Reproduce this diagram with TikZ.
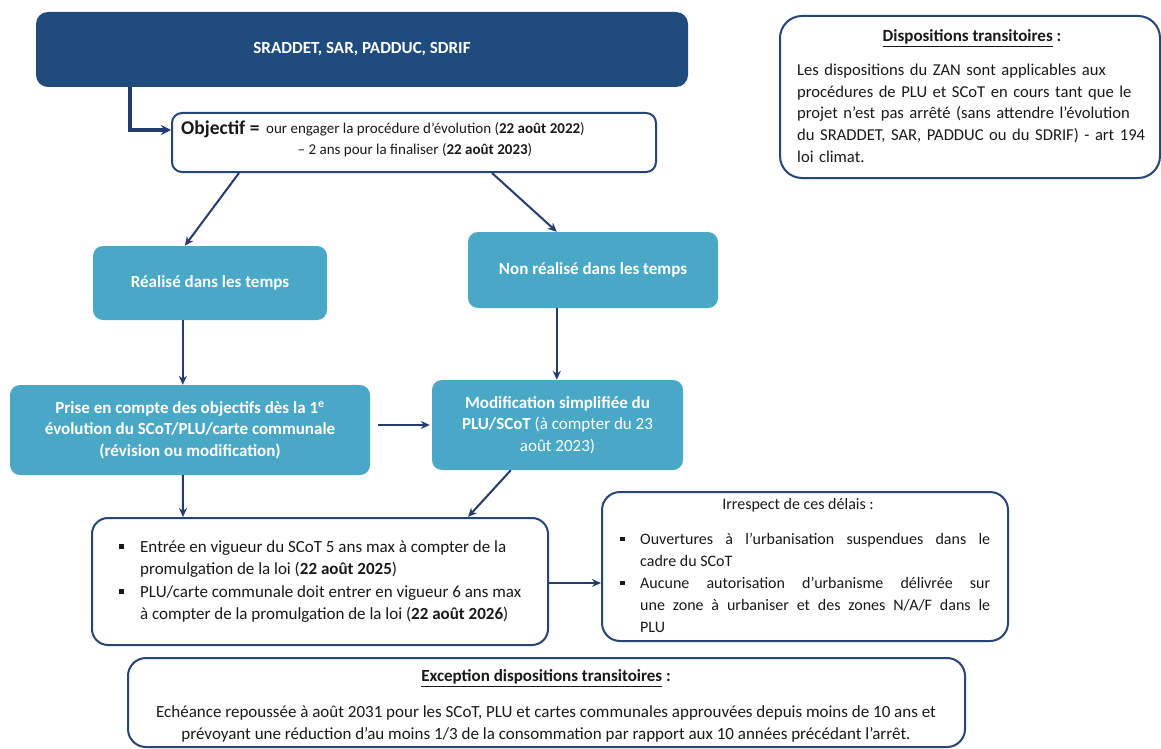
\documentclass[tikz,border=0pt]{standalone}
\usepackage{fontspec}
\setmainfont{Carlito}
\usetikzlibrary{arrows.meta}
\definecolor{navy}{RGB}{31,75,125}
\definecolor{bord}{RGB}{38,68,118}
\definecolor{arrc}{RGB}{35,60,110}
\definecolor{tealc}{RGB}{72,168,198}
\definecolor{txt}{RGB}{25,25,25}
\newcommand{\sqbul}{\rule[3.5pt]{4.5pt}{4.5pt}}
\begin{document}
\begin{tikzpicture}[x=1pt,y=-1pt,
  tealbox/.style={fill=tealc, rounded corners=10pt, text=white, font=\bfseries\fontsize{17}{21.5}\selectfont, align=center, inner sep=0pt},
  whitebox/.style={draw=bord, line width=2pt, fill=white, rounded corners=14pt, inner sep=0pt},
  arr/.style={draw=arrc, line width=2pt, -{Stealth[length=9pt,width=8pt]}},
  arrthick/.style={draw=arrc, line width=3.5pt, -{Stealth[length=10pt,width=10pt]}},
  body/.style={text=txt, inner sep=0pt, font=\fontsize{17}{21.5}\selectfont},
]
\useasboundingbox (0,0) rectangle (1161,749);
\fill[white] (0,0) rectangle (1161,749);

% boxes
\node[fill=navy, rounded corners=12pt, minimum width=652pt, minimum height=75pt, text=white, font=\bfseries\fontsize{17}{20}\selectfont] (srad) at (362,49.5) {SRADDET, SAR, PADDUC, SDRIF};
\node[whitebox, rounded corners=10pt, minimum width=484pt, minimum height=59pt] (objbox) at (414,142.5) {};
\node[whitebox, rounded corners=22pt, minimum width=380pt, minimum height=162pt] (disp) at (970,97) {};
\node[tealbox, minimum width=234pt, minimum height=74pt] (realise) at (210,283) {Réalisé dans les temps};
\node[tealbox, minimum width=250pt, minimum height=76pt] (nonreal) at (593,270) {Non réalisé dans les temps};
\node[tealbox, minimum width=360pt, minimum height=90pt] (prise) at (190,430) {Prise en compte des objectifs dès la 1\textsuperscript{e}\\évolution du SCoT/PLU/carte communale\\(révision ou modification)};
\node[tealbox, minimum width=251pt, minimum height=90pt] (modif) at (557.5,425) {Modification simplifiée du\\PLU/SCoT \mdseries(à compter du 23\\\mdseries août 2023)};
\node[whitebox, rounded corners=16pt, minimum width=456pt, minimum height=127pt] (bul) at (320,581.5) {};
\node[whitebox, rounded corners=18pt, minimum width=406pt, minimum height=149pt] (irr) at (805,566.5) {};
\node[whitebox, rounded corners=18pt, minimum width=837pt, minimum height=89pt] (exc) at (546.5,702.5) {};

% objectif texts
\node[body, anchor=west, font=\bfseries\fontsize{19.5}{22}\selectfont] (objlbl) at (181,129) {Objectif =};
\node[body, anchor=west, font=\fontsize{15}{20}\selectfont] (obj1) at (266,129) {our engager la procédure d’évolution (\textbf{22 août 2022})};
\node[body, font=\fontsize{15}{20}\selectfont] (obj2) at (415,150) {– 2 ans pour la finaliser (\textbf{22 août 2023})};

% dispositions transitoires
\node[body] (disptitle) at (972,38) {\bfseries\underline{Dispositions transitoires} :};
\node[body, anchor=north west, text width=380pt, align=left, font=\fontsize{16.6}{21.6}\selectfont] (disptext) at (797,64) {Les dispositions du ZAN sont applicables aux\\procédures de PLU et SCoT en cours tant que le\\projet n’est pas arrêté (sans attendre l’évolution\\du SRADDET, SAR, PADDUC ou du SDRIF) - art 194\\loi climat.};

% bullets box
\node[body, anchor=north west] (bultext) at (119,537) {\renewcommand{\arraystretch}{1}\begin{tabular}{@{}p{21pt}@{}l@{}}
\sqbul & Entrée en vigueur du SCoT 5 ans max à compter de la\\[1pt]
 & promulgation de la loi (\textbf{22 août 2025})\\[1pt]
\sqbul & PLU/carte communale doit entrer en vigueur 6 ans max\\[1pt]
 & à compter de la promulgation de la loi (\textbf{22 août 2026})
\end{tabular}};

% irrespect box
\node[body, font=\fontsize{16}{21.5}\selectfont] (irrtitle) at (798,505) {Irrespect de ces délais :};
\node[body, anchor=north west, font=\fontsize{16}{22}\selectfont] (irrtext) at (620,529) {\renewcommand{\arraystretch}{1}\begin{tabular}{@{}p{20pt}@{}p{350pt}@{}}
\sqbul & Ouvertures à l’urbanisation suspendues dans le\linebreak cadre du SCoT\\
\sqbul & Aucune autorisation d’urbanisme délivrée sur\linebreak une zone à urbaniser et des zones N/A/F dans le\linebreak PLU
\end{tabular}};

% exception box
\node[body] (exctitle) at (546,678) {\bfseries\underline{Exception dispositions transitoires} :};
\node[body, align=center, font=\fontsize{17}{22}\selectfont] (exctext) at (546,724) {Echéance repoussée à août 2031 pour les SCoT, PLU et cartes communales approuvées depuis moins de 10 ans et\\prévoyant une réduction d’au moins 1/3 de la consommation par rapport aux 10 années précédant l’arrêt.};

% connectors
\draw[arrthick] ([xshift=94pt]srad.south west) |- ([yshift=12.5pt]objbox.west);
\draw[arr] ([xshift=68pt]objbox.south west) -- ([xshift=92pt]realise.north west);
\draw[arr] ([xshift=321pt]objbox.south west) -- ([xshift=89pt]nonreal.north west);
\draw[arr] ([xshift=90pt]realise.south west) -- ([xshift=173pt]prise.north west);
\draw[arr] ([xshift=89pt]nonreal.south west) -- ([xshift=125pt]modif.north west);
\draw[arr] ([xshift=8pt,yshift=5pt]prise.east) -- ([xshift=-2pt]modif.west);
\draw[arr] ([xshift=173pt]prise.south west) -- ([xshift=92pt]bul.north west);
\draw[arr] ([xshift=79pt]modif.south west) -- ([xshift=377pt]bul.north west);
\draw[arr] ([yshift=-1.5pt]bul.east) -- ([yshift=-16.5pt]irr.west);
\end{tikzpicture}
\end{document}
